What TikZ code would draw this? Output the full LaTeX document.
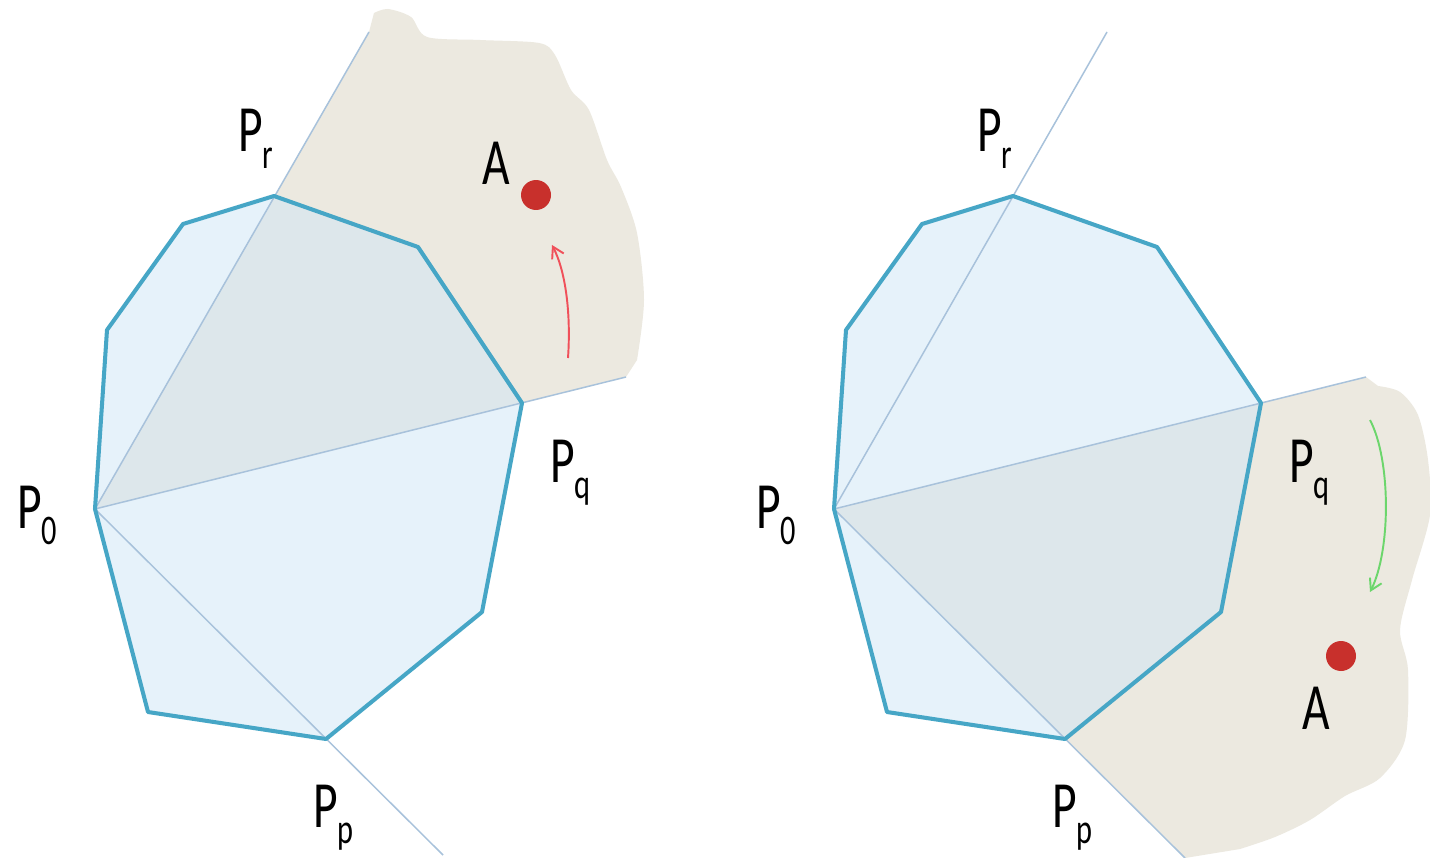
\documentclass[tikz,border=0pt]{standalone}
\usepackage{fontspec}
\setmainfont{Carlito}
\usetikzlibrary{arrows.meta}
\definecolor{edgeblue}{HTML}{46A6C6}
\definecolor{icefill}{HTML}{E6F2FA}
\definecolor{overlap}{HTML}{DDE7EB}
\definecolor{sand}{HTML}{ECE9E0}
\definecolor{raycol}{HTML}{A8C2DB}
\definecolor{dotred}{HTML}{C8302C}
\definecolor{arrred}{HTML}{F0505A}
\definecolor{arrgreen}{HTML}{6CD66C}
\newcommand{\vlab}[2]{\scalebox{0.72}[1]{#1\raisebox{-9.5pt}{\fontsize{24}{24}\selectfont #2}}}
\tikzset{hull/.style={draw=edgeblue,line width=2.3pt,line join=round}, raystroke/.style={draw=raycol,line width=0.85pt}, lbl/.style={anchor=base west,inner sep=0pt,font=\fontsize{37.6}{40}\selectfont}, spot/.style={circle,fill=dotred,minimum size=0.6cm,inner sep=0pt}, turn/.style={-{Straight Barb[length=2.2mm,width=2.6mm]},line width=1.1pt}}

\begin{document}
\begin{tikzpicture}[x=0.02cm,y=-0.02cm]
\fill[white] (0,0) rectangle (1430,858);
\useasboundingbox (0,0) rectangle (1430,858);
\begin{scope}
\coordinate (L0) at (95,509);\coordinate (La) at (107,330);\coordinate (Lb) at (183,224);
\coordinate (Lr) at (274,196);\coordinate (Lc) at (418,247);\coordinate (Lq) at (522,403);
\coordinate (Ld) at (482,612);\coordinate (Lp) at (326,739);\coordinate (Le) at (148,712);
\coordinate (Lrx) at (369,32);\coordinate (Lqx) at (626,377);\coordinate (Lpx) at (443,855);
\fill[sand] (L0) -- (Lrx) -- plot[smooth] coordinates {(374,13) (388,9) (411,17) (427,37) (480,40) (539,43) (555,55) (571,90) (589,110) (607,160) (621,187) (637,233) (644,300) (637,360)} -- (Lqx) -- cycle;
\fill[icefill] (L0)--(La)--(Lb)--(Lr)--(Lc)--(Lq)--(Ld)--(Lp)--(Le)--cycle;
\begin{scope}
\clip (L0)--(La)--(Lb)--(Lr)--(Lc)--(Lq)--(Ld)--(Lp)--(Le)--cycle;
\fill[overlap] (L0) -- (Lrx) -- (Lqx) -- cycle;
\end{scope}
\draw[raystroke] (L0) -- (Lrx);\draw[raystroke] (L0) -- (Lqx);\draw[raystroke] (L0) -- (Lpx);
\draw[hull] (L0)--(La)--(Lb)--(Lr)--(Lc)--(Lq)--(Ld)--(Lp)--(Le)--cycle;
\coordinate (redS) at (568,358);\coordinate (redE) at (552,245);
\draw[turn,arrred] (redS) .. controls (571,315) and (566,272) .. (redE);
\node[spot] (LA) at (536,195) {};
\node[lbl] (lA) at (482,185) {\scalebox{0.72}[1]{A}};
\node[lbl] (lPr) at (238,152) {\vlab{P}{r}};
\node[lbl] (lP0) at (17,528) {\vlab{P}{0}};
\node[lbl] (lPq) at (550,482) {\vlab{P}{q}};
\node[lbl] (lPp) at (313,827) {\vlab{P}{p}};
\end{scope}
\begin{scope}[shift={(739,0)}]
\coordinate (R0) at (95,509);\coordinate (Ra) at (107,330);\coordinate (Rb) at (183,224);
\coordinate (Rr) at (274,196);\coordinate (Rc) at (418,247);\coordinate (Rq) at (522,403);
\coordinate (Rd) at (482,612);\coordinate (Rp) at (326,739);\coordinate (Re) at (148,712);
\coordinate (Rrx) at (368,32);\coordinate (Rqx) at (627,377);\coordinate (Rpx) at (446,858);
\fill[sand] (R0) -- (Rqx) -- plot[smooth] coordinates {(639,386) (661,392) (679,415) (689,460) (691,515) (673,580) (661,630) (669,670) (666,740) (641,778) (606,796) (571,820) (536,837) (501,849)} -- (Rpx) -- cycle;
\fill[icefill] (R0)--(Ra)--(Rb)--(Rr)--(Rc)--(Rq)--(Rd)--(Rp)--(Re)--cycle;
\begin{scope}
\clip (R0)--(Ra)--(Rb)--(Rr)--(Rc)--(Rq)--(Rd)--(Rp)--(Re)--cycle;
\fill[overlap] (R0) -- (Rqx) -- (Rpx) -- cycle;
\end{scope}
\draw[raystroke] (R0) -- (Rrx);\draw[raystroke] (R0) -- (Rqx);\draw[raystroke] (R0) -- (Rpx);
\draw[hull] (R0)--(Ra)--(Rb)--(Rr)--(Rc)--(Rq)--(Rd)--(Rp)--(Re)--cycle;
\coordinate (greenS) at (631,420);\coordinate (greenE) at (631,592);
\draw[turn,arrgreen] (greenS) .. controls (652,460) and (652,550) .. (greenE);
\node[spot] (RA) at (602,656) {};
\node[lbl] (rA) at (563,729) {\scalebox{0.72}[1]{A}};
\node[lbl] (rPr) at (238,152) {\vlab{P}{r}};
\node[lbl] (rP0) at (17,528) {\vlab{P}{0}};
\node[lbl] (rPq) at (550,482) {\vlab{P}{q}};
\node[lbl] (rPp) at (313,827) {\vlab{P}{p}};
\end{scope}
\end{tikzpicture}
\end{document}
